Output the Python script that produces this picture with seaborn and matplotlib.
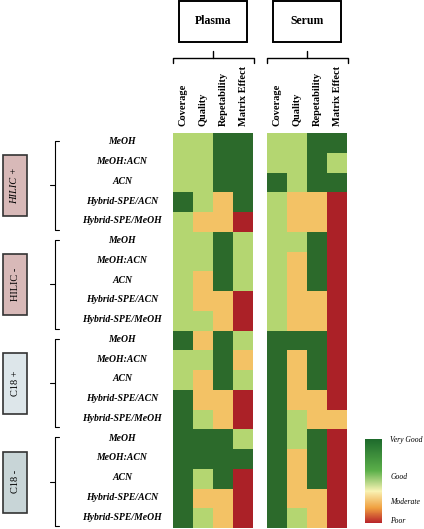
import numpy as np
import pandas as pd
import seaborn as sns
import matplotlib.pyplot as plt
from matplotlib.colors import ListedColormap, LinearSegmentedColormap, Normalize
from matplotlib.cm import ScalarMappable
from matplotlib.patches import Rectangle

sns.set_style('white')
plt.rcParams['font.family'] = ['Liberation Serif', 'DejaVu Serif']
plt.rcParams['text.color'] = 'black'

# 4 = very good, 3 = good, 2 = moderate, 1 = poor
groups = ['HILIC +', 'HILIC -', 'C18 +', 'C18 -']
methods = ['MeOH', 'MeOH:ACN', 'ACN', 'Hybrid-SPE/ACN', 'Hybrid-SPE/MeOH']
metrics = ['Coverage', 'Quality', 'Repetability', 'Matrix Effect']

plasma = [
    [3, 3, 4, 4], [3, 3, 4, 4], [3, 3, 4, 4], [4, 3, 2, 4], [3, 2, 2, 1],
    [3, 3, 4, 3], [3, 3, 4, 3], [3, 2, 4, 3], [3, 2, 2, 1], [3, 3, 2, 1],
    [4, 2, 4, 3], [3, 3, 4, 2], [3, 2, 4, 3], [4, 2, 2, 1], [4, 3, 2, 1],
    [4, 4, 4, 3], [4, 4, 4, 4], [4, 3, 4, 1], [4, 2, 2, 1], [4, 3, 2, 1],
]
serum = [
    [3, 3, 4, 4], [3, 3, 4, 3], [4, 3, 4, 4], [3, 2, 2, 1], [3, 2, 2, 1],
    [3, 3, 4, 1], [3, 2, 4, 1], [3, 2, 4, 1], [3, 2, 2, 1], [3, 2, 2, 1],
    [4, 4, 4, 1], [4, 2, 4, 1], [4, 2, 4, 1], [4, 2, 2, 1], [4, 3, 2, 2],
    [4, 3, 4, 1], [4, 2, 4, 1], [4, 2, 4, 1], [4, 2, 2, 1], [4, 3, 2, 1],
]
legend_labels = ['Very Good', 'Good', 'Moderate', 'Poor']

cell_cmap = ListedColormap(['#ab2127', '#f3c265', '#b4d671', '#2c6a2b'])
grad_cmap = LinearSegmentedColormap.from_list(
    'rating', [(0, '#b8232a'), (0.18, '#f0a040'), (0.38, '#f9f3b4'),
               (0.62, '#5cb04a'), (1, '#1d6a2c')])
box_cols = ['#d8b9b8', '#d8b9b8', '#dde6ea', '#c8d5d7']

W, H = 424, 529
fig = plt.figure(figsize=(W / 100, H / 100), dpi=100)

# overlay in pixel coordinates for boxes, brackets and labels
bg = fig.add_axes([0, 0, 1, 1])
bg.set_xlim(0, W)
bg.set_ylim(H, 0)
bg.axis('off')

rows = [m for g in groups for m in methods]
top, bottom = 133, 528
rh = (bottom - top) / len(rows)


def add_panel(vals, left, title):
    df = pd.DataFrame(vals, index=rows, columns=metrics)
    ax = fig.add_axes([left / W, 1 - bottom / H, 80 / W, (bottom - top) / H])
    sns.heatmap(df, ax=ax, cmap=cell_cmap, vmin=0.5, vmax=4.5, cbar=False,
                xticklabels=False, yticklabels=False)
    for j, m in enumerate(metrics):
        ax.text(j + 0.5, -0.35, m, rotation=90, ha='center', va='bottom',
                fontsize=7.5, fontweight='bold', clip_on=False)
    # title box and brace
    cx = left + 40
    bg.add_patch(Rectangle((cx - 34, 1), 68, 41, fill=False, lw=1.4,
                           ec='black'))
    bg.text(cx, 21, title, ha='center', va='center', fontsize=8.5,
            fontweight='bold')
    bg.plot([left, left, left + 81, left + 81], [63, 58, 58, 63],
            color='black', lw=1)
    bg.plot([cx, cx], [51, 58], color='black', lw=1)


add_panel(plasma, 173, 'Plasma')
add_panel(serum, 267, 'Serum')

# row labels
for i, r in enumerate(rows):
    bg.text(122, top + (i + 0.5) * rh - 1, r, ha='center', va='center',
            fontsize=7, fontstyle='italic', fontweight='bold')

# group brackets and boxes
for g, name in enumerate(groups):
    y0 = top + g * 5 * rh + 8
    y1 = top + (g + 1) * 5 * rh - 2
    ym = (y0 + y1) / 2
    bg.plot([59, 55, 55, 59], [y0, y0, y1, y1], color='black', lw=0.8)
    bg.plot([50, 55], [ym, ym], color='black', lw=0.8)
    bx0, bx1 = 3, 27
    by0, by1 = ym - 30, ym + 31
    bg.add_patch(Rectangle((bx0, by0), bx1 - bx0, by1 - by0, fc=box_cols[g],
                           ec='#333333', lw=1.2))
    bg.text((bx0 + bx1) / 2, ym, name, rotation=90, ha='center', va='center',
            fontsize=7.5, fontstyle='italic' if g == 0 else 'normal')

# legend colour bar
cax = fig.add_axes([365 / W, 1 - 523 / H, 17 / W, 84 / H])
cb = fig.colorbar(ScalarMappable(Normalize(1, 4), grad_cmap), cax=cax)
cb.set_ticks([])
cb.outline.set_visible(False)
for lab, fy in zip(legend_labels, [0.99, 0.55, 0.25, 0.02]):
    cax.text(1.5, fy, lab, transform=cax.transAxes, ha='left', va='center',
             fontsize=5.5, fontstyle='italic')

fig.savefig('out.png', dpi=100)
